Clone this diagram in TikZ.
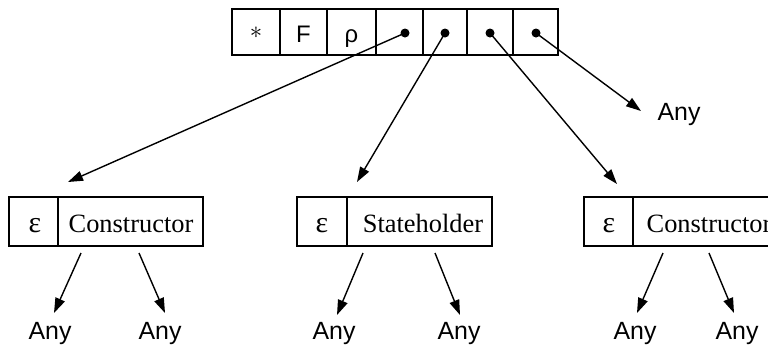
\documentclass[tikz,border=0pt]{standalone}
\usepackage{fontspec}
\setmainfont{Liberation Serif}
\setsansfont{Liberation Sans}
\usetikzlibrary{arrows.meta}
\tikzset{
  cellbox/.style={draw, line width=2.2bp, inner sep=0pt, minimum height=46bp},
  recbox/.style={draw, line width=2.2bp, inner sep=0pt, minimum height=49bp},
  celltxt/.style={anchor=base, inner sep=0pt, font=\sffamily\fontsize{24}{24}\selectfont},
  rectxt/.style={anchor=base, inner sep=0pt, font=\rmfamily\fontsize{26.5}{26.5}\selectfont},
  epstxt/.style={anchor=base, inner sep=0pt, font=\rmfamily\fontsize{30}{30}\selectfont},
  anylbl/.style={anchor=base, inner sep=0pt, font=\sffamily\fontsize{25}{25}\selectfont},
  ptr/.style={line width=1.4bp, -{Triangle[length=15bp,width=10bp]}},
  dotmark/.style={circle, fill=black, inner sep=0pt, minimum size=9bp}
}
\begin{document}
\begin{tikzpicture}[x=1bp,y=-1bp]
\useasboundingbox (0,0) rectangle (768,346);
\clip (0,0) rectangle (768,346);
% top array
\node[cellbox, minimum width=48bp] (c1) at (256,32) {};
\node[cellbox, minimum width=47bp] (c2) at (303.5,32) {};
\node[cellbox, minimum width=49bp] (c3) at (351.5,32) {};
\node[cellbox, minimum width=47bp] (c4) at (399.5,32) {};
\node[cellbox, minimum width=44bp] (c5) at (445,32) {};
\node[cellbox, minimum width=46bp] (c6) at (490,32) {};
\node[cellbox, minimum width=45bp] (c7) at (535.5,32) {};
\node[inner sep=0pt, font=\fontsize{28}{28}\selectfont] (s1) at (256,33) {$*$};
\node[celltxt] (s2) at (303.5,42) {F};
\node[celltxt] (s3) at (351.5,42) {ρ};
\node[dotmark] (d4) at (405,33) {};
\node[dotmark] (d5) at (445,33) {};
\node[dotmark] (d6) at (490,33) {};
\node[dotmark] (d7) at (536,33) {};
% records
\node[recbox, minimum width=49bp] (le) at (33.5,221.5) {};
\node[recbox, minimum width=145bp] (lc) at (130.5,221.5) {};
\node[recbox, minimum width=50bp] (me) at (322,221.5) {};
\node[recbox, minimum width=145bp] (mc) at (419.5,221.5) {};
\node[recbox, minimum width=49bp] (re) at (608.5,221.5) {};
\node[recbox, minimum width=145bp] (rc) at (705.5,221.5) {};
\node[epstxt] (let) at (35,232) {ε};
\node[rectxt] (lct) at (131,232) {Constructor};
\node[epstxt] (met) at (322,232) {ε};
\node[rectxt] (mct) at (423,232) {Stateholder};
\node[epstxt] (ret) at (609,232) {ε};
\node[rectxt] (rct) at (709,232) {Constructor};
% arrow ends
\coordinate (t4) at (68,182);
\coordinate (t5) at (357,182);
\coordinate (t6) at (617,184);
\coordinate (t7) at (641,111);
\node[anylbl] (a7) at (679,120) {Any};
\draw[ptr] (d4.center) -- (t4);
\draw[ptr] (d5.center) -- (t5);
\draw[ptr] (d6.center) -- (t6);
\draw[ptr] (d7.center) -- (t7);
% children
\node[anylbl] (l1) at (50,339) {Any};
\node[anylbl] (l2) at (160,339) {Any};
\node[anylbl] (m1) at (334,339) {Any};
\node[anylbl] (m2) at (459,339) {Any};
\node[anylbl] (r1) at (635,339) {Any};
\node[anylbl] (r2) at (737,339) {Any};
\coordinate (ls1) at (81,253); \coordinate (le1) at (54,313);
\coordinate (ls2) at (139,253); \coordinate (le2) at (165,313);
\coordinate (ms1) at (363,253); \coordinate (me1) at (337,315);
\coordinate (ms2) at (435,253); \coordinate (me2) at (460,315);
\coordinate (rs1) at (663,253); \coordinate (re1) at (637,313);
\coordinate (rs2) at (709,253); \coordinate (re2) at (734,313);
\draw[ptr] (ls1) -- (le1);
\draw[ptr] (ls2) -- (le2);
\draw[ptr] (ms1) -- (me1);
\draw[ptr] (ms2) -- (me2);
\draw[ptr] (rs1) -- (re1);
\draw[ptr] (rs2) -- (re2);
\end{tikzpicture}
\end{document}
